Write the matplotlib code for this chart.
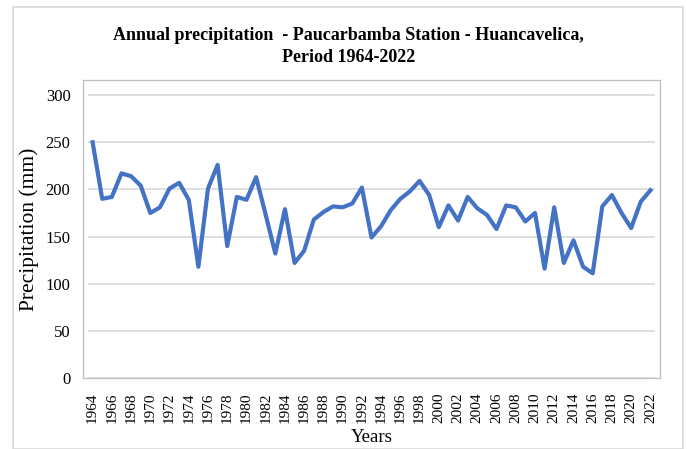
import numpy as np
import matplotlib
matplotlib.use("Agg")
import matplotlib.pyplot as plt
from matplotlib.patches import Rectangle

years = list(range(1964, 2023))
precip = [250, 190, 192, 217, 214, 204, 175, 181, 201, 207,
          189, 118, 201, 226, 140, 192, 189, 213, 173, 132,
          179, 122, 135, 168, 176, 182, 181, 185, 202, 149,
          161, 178, 190, 198, 209, 194, 160, 183, 167, 192,
          180, 173, 158, 183, 181, 166, 175, 116, 181, 122,
          146, 118, 111, 182, 194, 175, 159, 187, 199]
y_ticks = [0, 50, 100, 150, 200, 250, 300]
x_labels = years[::2]

plt.rcParams['font.family'] = ['Liberation Serif', 'DejaVu Serif']

fig = plt.figure(figsize=(6.87, 4.49), dpi=100)
ax = fig.add_axes([0.1208, 0.1581, 0.8399, 0.6637])

# outer chart border
fig.patches.append(Rectangle((13 / 687, 0.0), 670 / 687, 1 - 7 / 449,
                             transform=fig.transFigure, fill=False,
                             edgecolor='#d9d9d9', linewidth=1.2))

ax.set_xlim(1963.0, 2023.0)
ax.set_ylim(0, 316)

ax.hlines(y_ticks, years[0] - 0.5, years[-1] + 0.5, color='#d9d9d9', linewidth=1.2, zorder=1)
ax.plot(years, precip, color='#4472C4', linewidth=3.0, solid_joinstyle='round', zorder=3)

for s in ax.spines.values():
    s.set_color('#bfbfbf')
    s.set_linewidth(0.9)

ax.set_yticks(y_ticks)
ax.set_yticklabels([str(v) for v in y_ticks], fontsize=12)
ax.set_xticks(x_labels)
ax.set_xticklabels([str(v) for v in x_labels], rotation=90, fontsize=11)
ax.tick_params(axis='both', length=0)
ax.tick_params(axis='y', pad=9)
ax.tick_params(axis='x', pad=10.5)

ax.set_ylabel('Precipitation (mm)', fontsize=15.5, labelpad=5)
ax.set_xlabel('Years', fontsize=13.5, labelpad=4)

fig.text(0.507, 1 - 35 / 449, 'Annual precipitation  - Paucarbamba Station - Huancavelica,',
         ha='center', va='center', fontsize=13, fontweight='bold')
fig.text(0.507, 1 - 57 / 449, 'Period 1964-2022',
         ha='center', va='center', fontsize=13, fontweight='bold')

fig.savefig('out.png', dpi=100)
